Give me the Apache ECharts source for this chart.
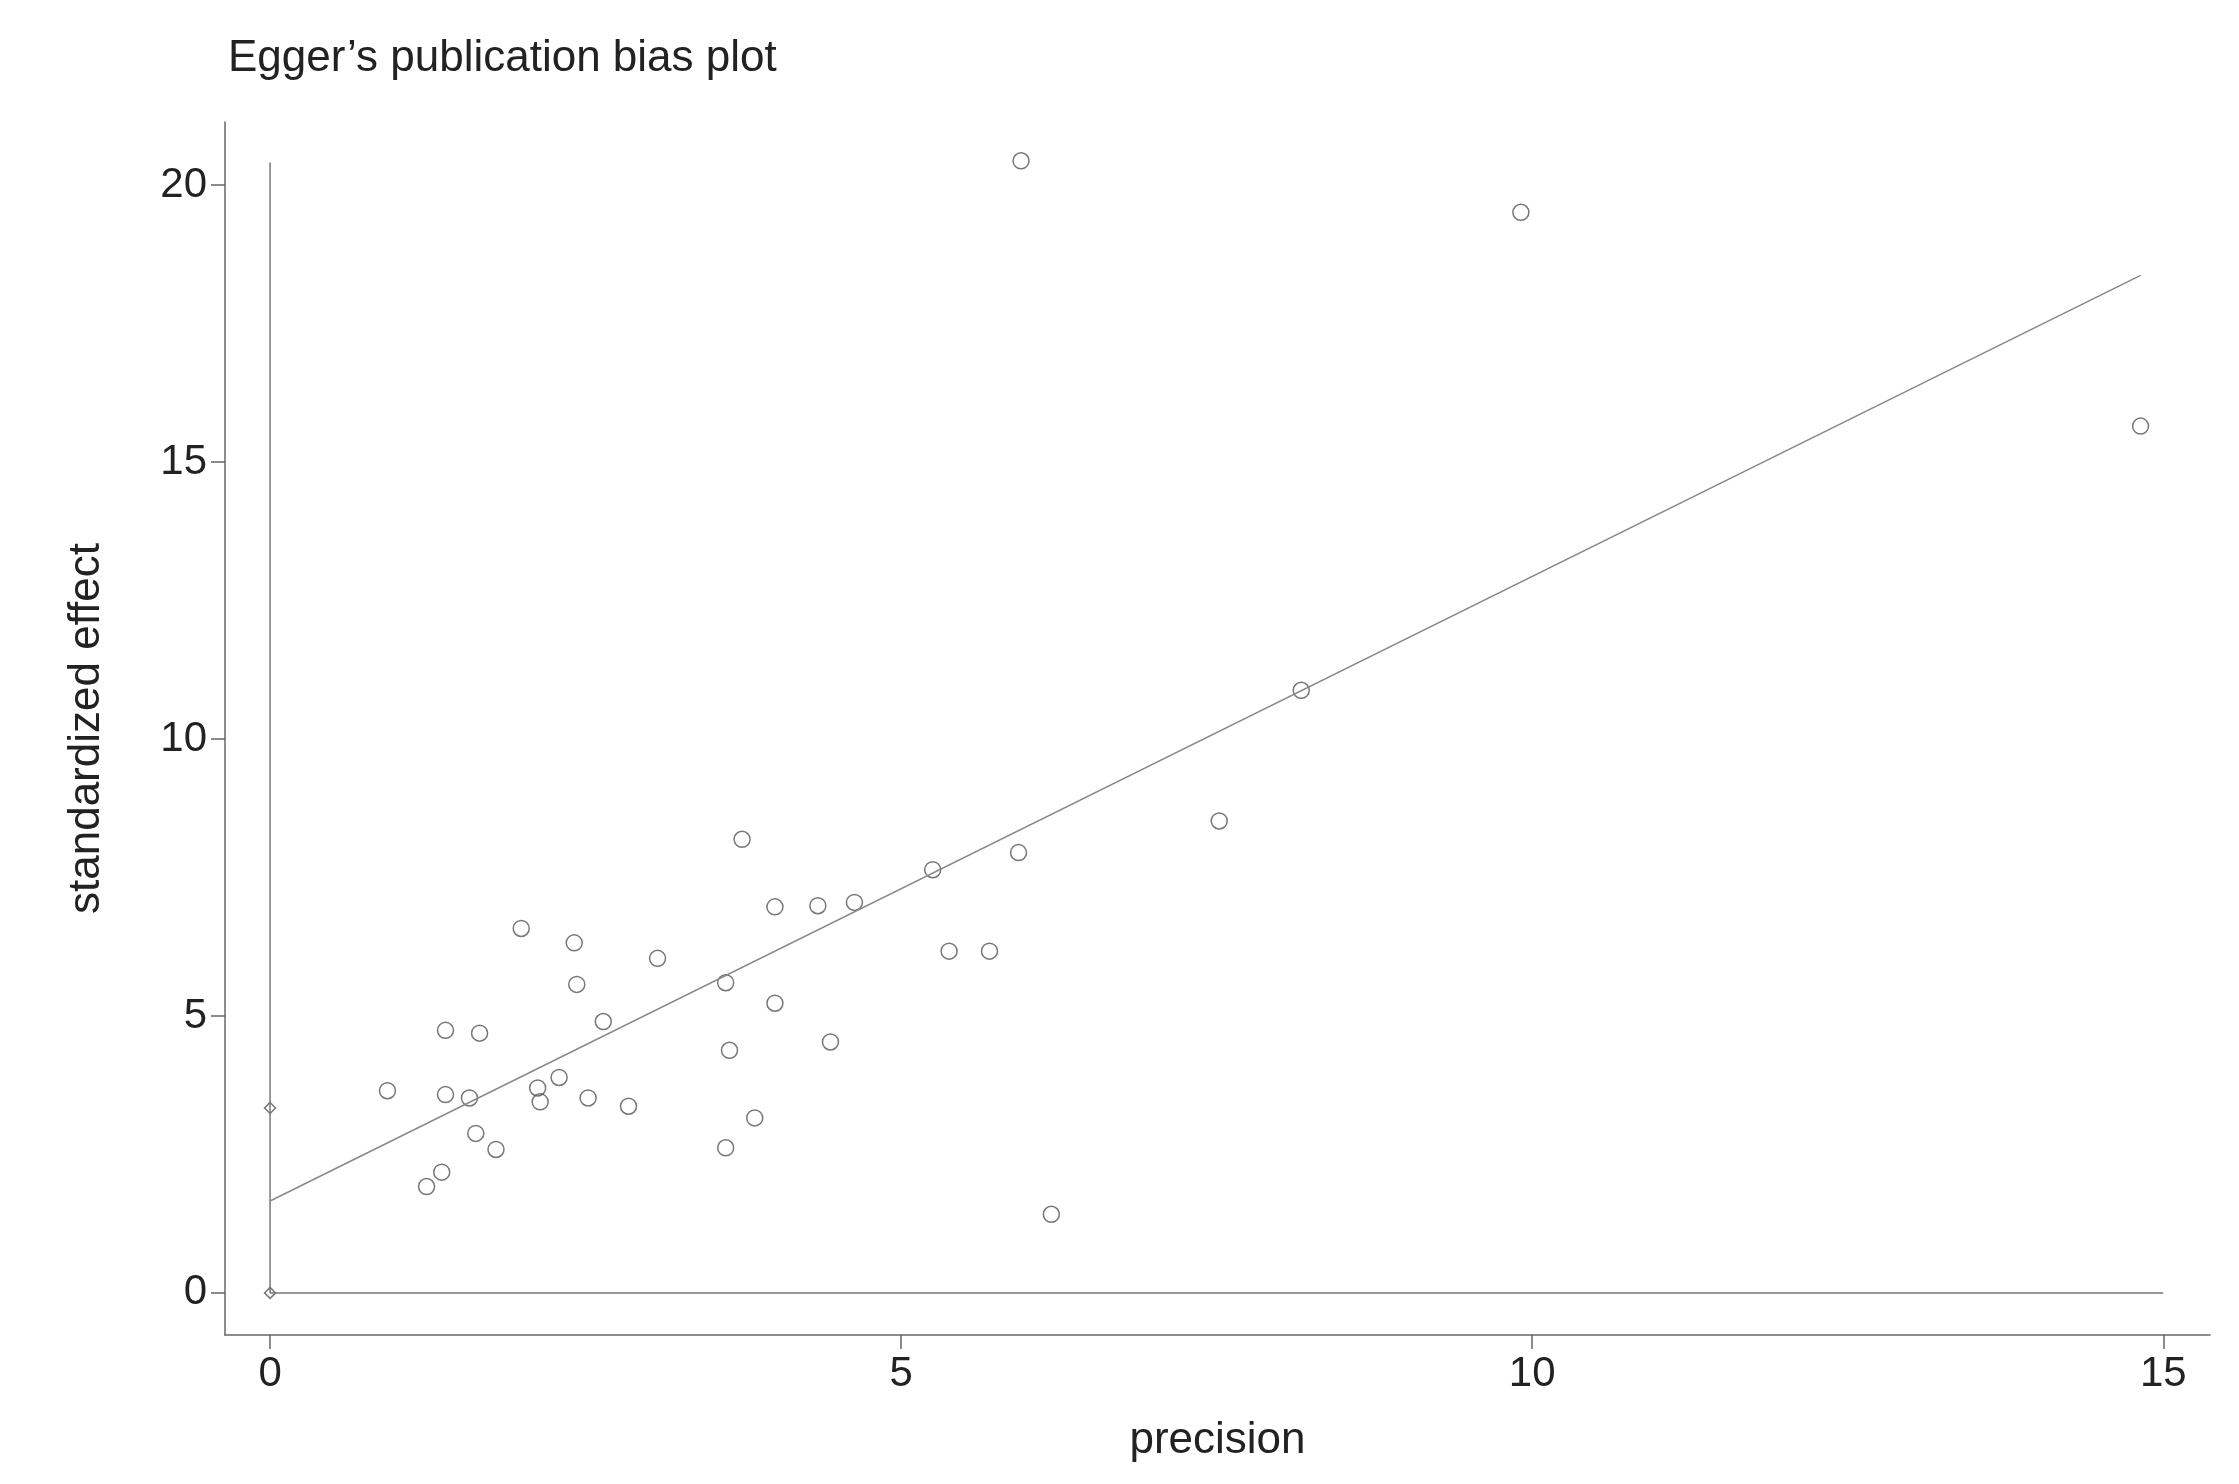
<!DOCTYPE html>
<html><head><meta charset="utf-8">
<script src="https://cdn.jsdelivr.net/npm/echarts@6/dist/echarts.min.js"></script>
<style>html,body{margin:0;background:#fff}#c{width:2239px;height:1484px}</style>
</head><body><div id="c"></div>
<script>
const precision=[5.95,9.91,14.82,8.17,7.52,5.93,5.25,3.74,4.00,4.34,4.63,5.38,5.70,4.00,4.44,3.61,3.64,3.84,3.61,6.19,3.07,1.99,2.41,2.43,2.64,2.29,2.12,2.14,2.52,2.84,1.39,1.66,0.93,1.39,1.58,1.63,1.79,1.36,1.24];
const effect=[20.44,19.51,15.65,10.88,8.52,7.95,7.64,8.19,6.97,6.99,7.05,6.17,6.17,5.23,4.53,5.60,4.38,3.16,2.62,1.42,6.04,6.58,6.32,5.57,4.90,3.89,3.70,3.45,3.52,3.37,4.74,4.69,3.65,3.58,3.52,2.88,2.59,2.18,1.92];
const axisPts=[[0,3.34],[0,0]];
const fitLine=[[0,1.66],[14.82,18.37]];
const vLine=[[0,0],[0,20.41]];
const hLine=[[0,0],[15,0]];
const xTicks=[0,5,10,15], yTicks=[0,5,10,15,20];
const F='Liberation Sans, Arial, sans-serif';
const chart=echarts.init(document.getElementById('c'));
const ax=(ticks)=>({axisLine:{show:true,onZero:false,lineStyle:{color:'#666',width:1.5}},
 axisTick:{show:true,customValues:ticks,length:14,lineStyle:{color:'#666',width:1.5}},
 axisLabel:{customValues:ticks,fontSize:42,color:'#222',fontFamily:F,margin:18},splitLine:{show:false}});
chart.setOption({
 animation:false,
 title:{text:'Egger’s publication bias plot',left:223,top:32,textStyle:{fontSize:44,fontWeight:'normal',color:'#222',fontFamily:F}},
 grid:{left:225,right:29,top:122,bottom:149,containLabel:false},
 xAxis:Object.assign({type:'value',min:-0.357,max:15.37,name:'precision',nameLocation:'middle',nameGap:84,nameTextStyle:{fontSize:44,color:'#222',fontFamily:F}},ax(xTicks)),
 yAxis:Object.assign({type:'value',min:-0.76,max:21.14,name:'standardized effect',nameLocation:'middle',nameGap:116,nameTextStyle:{fontSize:44,color:'#222',fontFamily:F}},ax(yTicks)),
 series:[
  {type:'line',data:vLine,symbol:'none',lineStyle:{color:'#777',width:1.5}},
  {type:'line',data:hLine,symbol:'none',lineStyle:{color:'#777',width:1.5}},
  {type:'line',data:fitLine,symbol:'none',lineStyle:{color:'#888',width:1.5}},
  {type:'scatter',data:precision.map((x,i)=>[x,effect[i]]),symbol:'circle',symbolSize:16,itemStyle:{color:'rgba(0,0,0,0)',borderColor:'#555',borderWidth:1.5}},
  {type:'scatter',data:axisPts,symbol:'diamond',symbolSize:11,itemStyle:{color:'rgba(0,0,0,0)',borderColor:'#555',borderWidth:1.5}}
 ]
});
</script></body></html>
